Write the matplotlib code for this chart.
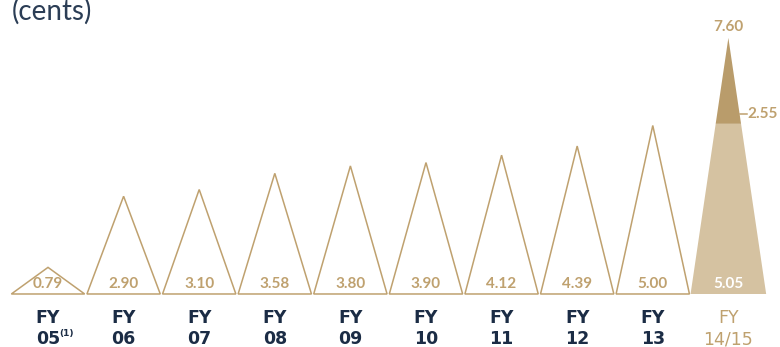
import matplotlib.pyplot as plt
from matplotlib.patches import Polygon

years = ['05', '06', '07', '08', '09', '10', '11', '12', '13', '14/15']
dividends = [0.79, 2.90, 3.10, 3.58, 3.80, 3.90, 4.12, 4.39, 5.00, 5.05]
special = 2.55
total_last = 7.60

tan = '#BFA16F'
light_fill = '#D5C2A1'
dark_fill = '#B99C6B'
navy = '#1B2C45'

plt.rcParams['font.family'] = ['Lato', 'DejaVu Sans']

fig = plt.figure(figsize=(7.8, 3.47), dpi=100)
ax = fig.add_axes([0, 0, 1, 1])
ax.set_xlim(-0.635, 9.683)
ax.set_ylim(-1.573, 8.724)
ax.axis('off')

n = len(years)
for i, v in enumerate(dividends):
    if i < n - 1:
        hw = 0.485
        ax.add_patch(Polygon([(i - hw, 0), (i + hw, 0), (i, v)], closed=True,
                             fill=False, edgecolor=tan, lw=1.1, joinstyle='miter'))
        ax.text(i, 0.3, f'{v:.2f}', ha='center', va='center', fontsize=11,
                fontweight='bold', color=tan)
    else:
        hw = 0.5
        top = v + special
        # half width of the triangle where the split sits
        w = hw * (1 - v / top)
        ax.add_patch(Polygon([(i - hw, 0), (i + hw, 0), (i + w, v), (i - w, v)],
                             closed=True, facecolor=light_fill, edgecolor='none'))
        ax.add_patch(Polygon([(i - w, v), (i + w, v), (i, top)],
                             closed=True, facecolor=dark_fill, edgecolor='none'))
        ax.text(i, 0.3, f'{v:.2f}', ha='center', va='center', fontsize=11,
                fontweight='bold', color='white')
        ax.text(i, top + 0.33, f'{total_last:.2f}', ha='center', va='center',
                fontsize=11, fontweight='bold', color=tan)
        ax.plot([i + w - 0.01, i + w + 0.08], [v + 0.3, v + 0.3], color=tan, lw=1.1)
        ax.text(i + w + 0.09, v + 0.3, f'{special:.2f}', ha='left', va='center',
                fontsize=11, fontweight='bold', color=tan)

for i, yr in enumerate(years):
    last = i == n - 1
    col = tan if last else navy
    wt = 'normal' if last else 'bold'
    fam = ['DejaVu Sans']
    ax.text(i, -0.72, 'FY', ha='center', va='center', fontsize=12.5,
            fontweight=wt, color=col, family=fam)
    ax.text(i, -1.34, yr, ha='center', va='center', fontsize=12.5,
            fontweight=wt, color=col, family=fam)

ax.annotate('(1)', xy=(0, -1.34), xytext=(8, 4), textcoords='offset points',
            ha='left', va='center', fontsize=6.5, fontweight='bold', color=navy,
            family=['DejaVu Sans'])

ax.text(12 / 75.6 - 0.635, 8.40, '(cents)', ha='left', va='center',
        fontsize=20, color='#2B3D55')

fig.savefig('out.png', dpi=100)
